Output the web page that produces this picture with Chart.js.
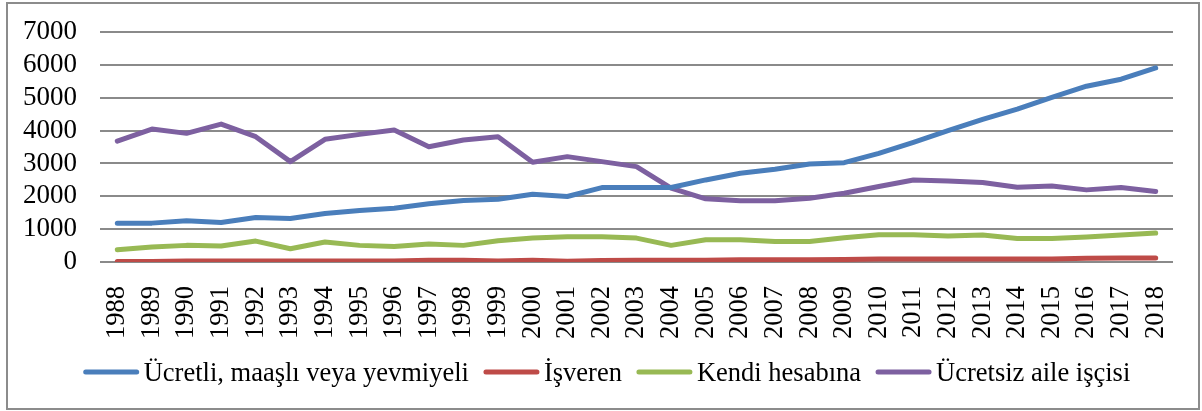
<!DOCTYPE html>
<html>
<head>
<meta charset="utf-8">
<script src="https://cdn.jsdelivr.net/npm/chart.js@4.4.1/dist/chart.umd.min.js"></script>
<style>
html,body{margin:0;padding:0;background:#fff;}
#wrap{width:1202px;height:411px;position:relative;}
</style>
</head>
<body>
<div id="wrap"><canvas id="c" width="1202" height="411"></canvas></div>
<script>
const years = ["1988","1989","1990","1991","1992","1993","1994","1995","1996","1997","1998","1999","2000","2001","2002","2003","2004","2005","2006","2007","2008","2009","2010","2011","2012","2013","2014","2015","2016","2017","2018"];
const ucretli = [1183,1183,1254,1204,1355,1325,1477,1568,1639,1770,1871,1912,2064,1993,2266,2266,2266,2498,2700,2822,2984,3024,3308,3642,3996,4339,4653,5007,5351,5563,5907];
const isveren = [15,15,30,30,30,30,30,30,30,50,50,30,50,20,45,50,50,55,65,70,70,75,90,95,95,95,95,95,115,120,120];
const kendi = [374,455,506,486,637,405,607,506,475,546,506,647,728,769,769,728,506,678,678,627,627,738,829,829,789,819,718,718,759,819,880];
const ucretsiz = [3680,4046,3915,4198,3813,3055,3733,3884,4016,3510,3712,3813,3035,3207,3055,2903,2246,1922,1861,1861,1942,2094,2296,2498,2468,2418,2276,2316,2195,2266,2144];
const yTicks = [0,1000,2000,3000,4000,5000,6000,7000];
const seriesNames = ["Ücretli, maaşlı veya yevmiyeli","İşveren","Kendi hesabına","Ücretsiz aile işçisi"];
const colors = ["#4A7EBB","#BE4B48","#98B954","#7D60A0"];

const FONT = "'Liberation Serif','Times New Roman',serif";

const frame = {
  id:'frame',
  beforeDraw(chart){
    const ctx = chart.ctx;
    ctx.save();
    ctx.fillStyle = '#fff';
    ctx.fillRect(0,0,chart.width,chart.height);
    ctx.strokeStyle = '#8c8c8c';
    ctx.lineWidth = 2;
    ctx.strokeRect(7,3,1192,406);
    ctx.restore();
  }
};

// Legend drawn in Excel style: line sample, small gap, text
const lineLegend = {
  id:'lineLegend',
  afterDraw(chart){
    const ctx = chart.ctx;
    const sw = 55, gapT = 5, gapI = 15, cy = 372;
    ctx.save();
    ctx.font = "26.5px " + FONT;
    const items = chart.data.datasets.map(ds=>({ds, w: ctx.measureText(ds.label).width}));
    const total = items.reduce((a,it)=>a+sw+gapT+it.w,0) + gapI*(items.length-1);
    let x = 607 - total/2;
    items.forEach(it=>{
      ctx.strokeStyle = it.ds.borderColor;
      ctx.lineWidth = 5;
      ctx.lineCap = 'round';
      ctx.beginPath();
      ctx.moveTo(x+2, cy);
      ctx.lineTo(x+sw-2, cy);
      ctx.stroke();
      x += sw + gapT;
      ctx.fillStyle = '#000';
      ctx.textBaseline = 'alphabetic';
      ctx.textAlign = 'left';
      ctx.fillText(it.ds.label, x, 381);
      x += it.w + gapI;
    });
    ctx.restore();
  }
};

const series = [ucretli,isveren,kendi,ucretsiz];
new Chart(document.getElementById('c'),{
  type:'line',
  data:{
    labels:years,
    datasets: series.map((d,i)=>({
      label:seriesNames[i],
      data:d,
      borderColor:colors[i],
      backgroundColor:colors[i],
      borderWidth:5,
      pointRadius:0,
      tension:0,
      borderCapStyle:'round',
      borderJoinStyle:'round'
    }))
  },
  options:{
    responsive:false,
    animation:false,
    layout:{padding:{left:0,right:29,top:32,bottom:56.5}},
    plugins:{
      legend:{display:false},
      tooltip:{enabled:false}
    },
    scales:{
      x:{
        offset:true,
        afterFit(s){s.height=92.5;s.paddingLeft=0;s.paddingRight=0;},
        grid:{display:false},
        border:{display:false},
        ticks:{
          minRotation:90,maxRotation:90,autoSkip:false,
          font:{family:FONT,size:26.5},color:'#000',padding:16
        }
      },
      y:{
        min:0,max:7000,
        afterFit(s){s.width=100;s.paddingTop=0;s.paddingBottom=0;},
        afterBuildTicks(s){s.ticks = yTicks.map(v=>({value:v}));},
        grid:{color:'#8a8a8a',lineWidth:2,drawTicks:false},
        border:{display:false},
        ticks:{font:{family:FONT,size:27},color:'#000',padding:23,autoSkip:false,
          callback:(v)=>String(v)}
      }
    }
  },
  plugins:[frame,lineLegend]
});
</script>
</body>
</html>
